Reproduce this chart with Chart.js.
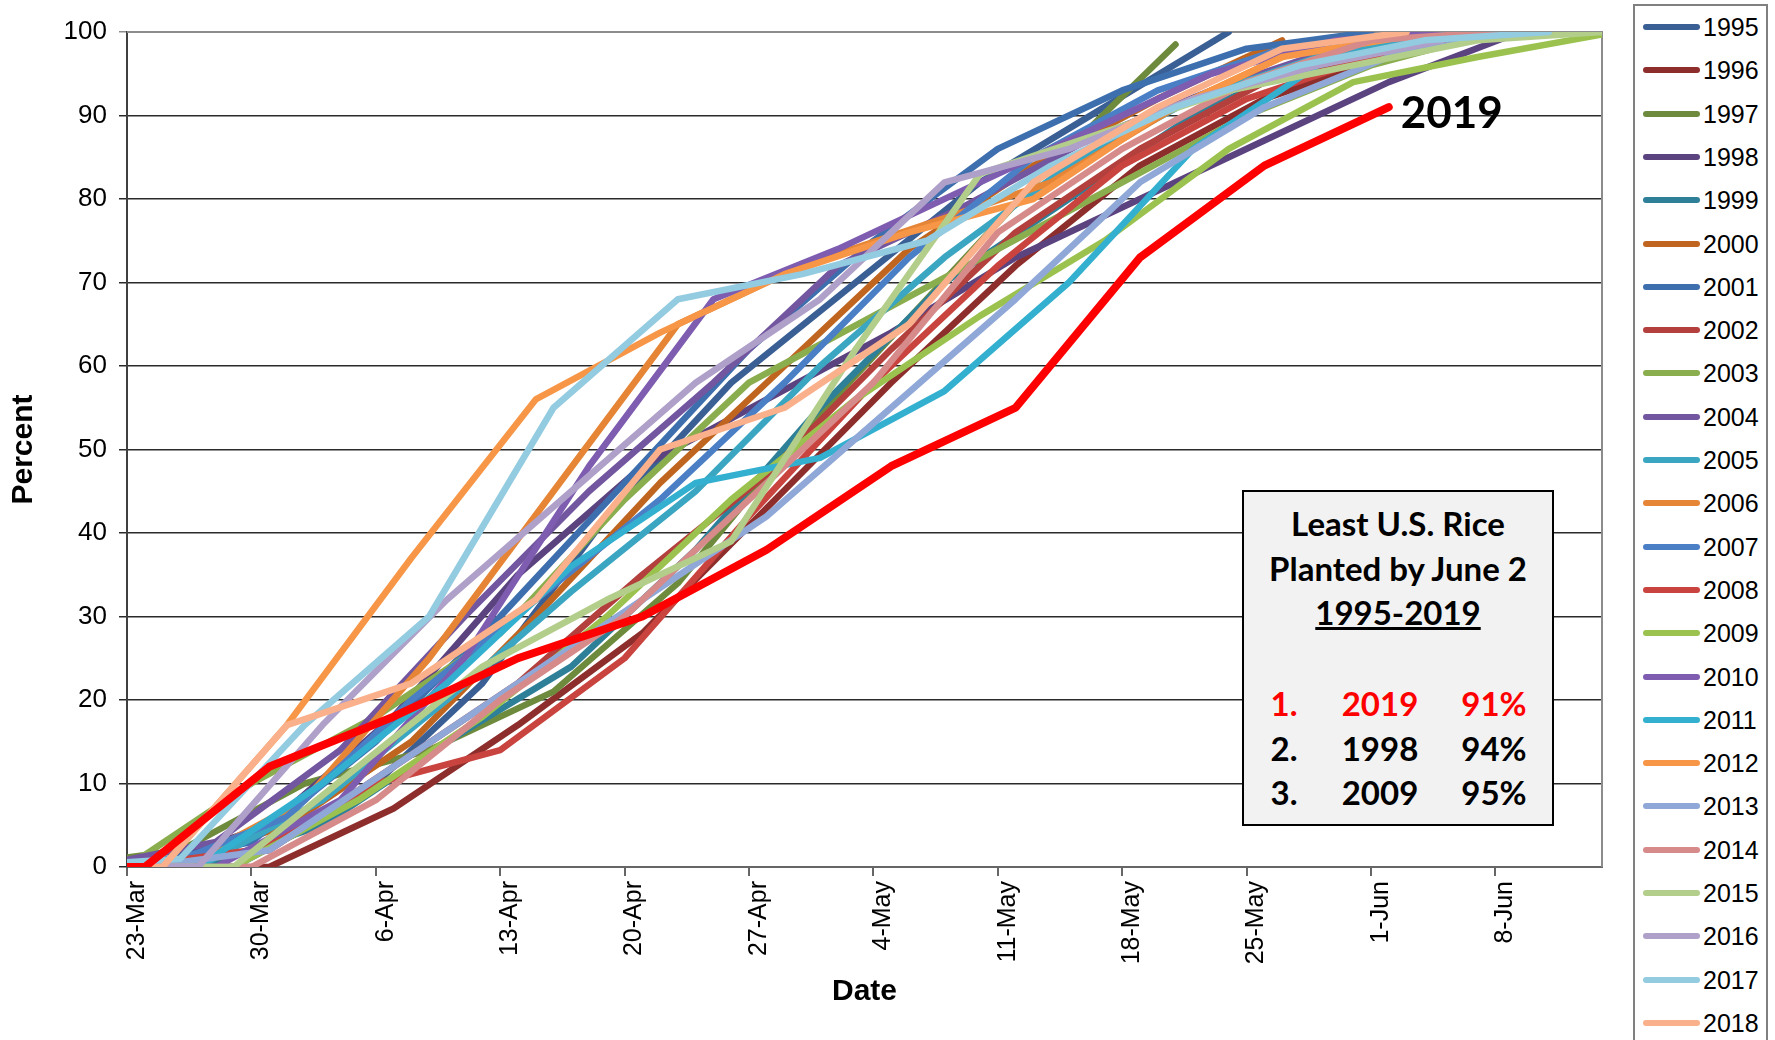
<!DOCTYPE html>
<html>
<head>
<meta charset="utf-8">
<script src="https://cdn.jsdelivr.net/npm/chart.js@4.4.1/dist/chart.umd.min.js"></script>
<style>
html,body{margin:0;padding:0;background:#fff;overflow:hidden;}
#wrap{position:relative;width:1775px;height:1040px;overflow:hidden;}
#c{position:absolute;left:0;top:0;}
#legend{position:absolute;left:1633px;top:4px;width:135px;height:1100px;border:2px solid #808080;background:#fff;box-sizing:border-box;}
.li{position:absolute;left:0;height:30px;width:130px;}
.li .sw{position:absolute;left:8px;top:12px;width:57px;height:6px;border-radius:3px;}
.li .tx{position:absolute;left:68px;top:0;font:25px "Liberation Sans",Arial,sans-serif;line-height:30px;color:#000;}
#note{position:absolute;left:1242px;top:490px;width:312px;height:336px;border:2px solid #000;background:#F2F2F2;box-sizing:border-box;font-family:Lato,"Open Sans",sans-serif;font-weight:bold;font-size:33px;color:#000;}
#note .t{position:absolute;left:0;width:100%;text-align:center;line-height:38px;}
#note .r{position:absolute;left:0;width:100%;height:38px;line-height:38px;}
#note .r span{position:absolute;text-align:center;}
</style>
</head>
<body>
<div id="wrap">
<canvas id="c" width="1620" height="1040"></canvas>
<div id="legend"></div>
<div id="note"></div>
</div>
<script>
// x axis: days after 23-Mar; weekly tick labels
const tickLabels = ['23-Mar','30-Mar','6-Apr','13-Apr','20-Apr','27-Apr','4-May','11-May','18-May','25-May','1-Jun','8-Jun'];
const years = [1995,1996,1997,1998,1999,2000,2001,2002,2003,2004,2005,2006,2007,2008,2009,2010,2011,2012,2013,2014,2015,2016,2017,2018,2019];
// day (after 23-Mar) of the first weekly report of each year
const firstDay = [-1,-6,-4,-6,-3,-5,-7,-6,-7,-2,-3,-4,-5,-7,-1,-2,-3,-5,-6,-7,-8,-3,-4,-5,-6];
// weekly percent planted (one value per week from firstDay)
const v1995 = [0,0,8,22,42,58,70,82,91,100];
const v1996 = [0,0,0,7,17,28,43,58,72,84,92,97,100];
const v1997 = [0,2,10,14,21,34,52,68,84,98.5];
const v1998 = [0,0,5,18,35,48,56,64,73,80,87,94,99.7];
const v1999 = [0,0,5,15,24,38,55,70,80,90,97,100];
const v2000 = [0,0,5,15,30,46,60,74,84,92,99];
const v2001 = [0,0,3,15,30,46,62,75,86,93,98,100];
const v2002 = [0,0,2,12,22,35,47,62,76,86,94,98,100];
const v2003 = [0,0,10,18,28,44,58,66,74,82,90,96,100];
const v2004 = [0,3,14,30,45,58,72,79,87,93,98,100];
const v2005 = [0,0,8,20,33,45,60,73,84,92,97,100];
const v2006 = [0,0,8,25,45,65,72,77,82,91,98,100];
const v2007 = [0,0,6,20,32,44,58,73,85,93,98,100];
const v2008 = [0,0,2,10,14,25,42,58,72,84,92,97,100];
const v2009 = [0,0,8,18,30,44,56,66,75,86,94,97,99.7];
const v2010 = [0,0,8,25,48,68,74,81,88,95,99,100];
const v2011 = [0,0,10,22,36,46,49,57,70,86,96,99.6];
const v2012 = [0,0,17,37,56,64,71,76,80,90,97,99.5];
const v2013 = [0,0,2,12,22,32,42,55,68,82,91,97,100];
const v2014 = [0,0,0,8,20,30,44,58,76,86,94,99,100];
const v2015 = [0,0,0,12,24,32,39,62,83,88,93,96,99,100];
const v2016 = [0,0,17,32,45,58,68,82,86,92,96,99];
const v2017 = [0,1,17,30,55,68,71,75,84,91,96,99,100];
const v2018 = [0,0,17,22,32,50,55,65,82,91,98,100];
const v2019 = [0,0,12,18,25,30,38,48,55,73,84,91];
const values = [v1995,v1996,v1997,v1998,v1999,v2000,v2001,v2002,v2003,v2004,v2005,v2006,v2007,v2008,v2009,v2010,v2011,v2012,v2013,v2014,v2015,v2016,v2017,v2018,v2019];
const colors = ['#3A5F94','#8E2E2C','#6E8B3D','#5B4380','#2E8099','#C0651F','#3D6FAE','#B3403D','#8AAD4E','#7356A0','#3BA6C2','#E58535','#4A7FC6','#C9433F','#9BC24E','#7E5CB0','#33B0CF','#F79646','#8FA8D8','#D78A8A','#B2CE8A','#AFA0C9','#93CBE0','#FAB08A','#FF0000'];
const rankNo = ['1.','2.','3.'];
const rankYear = ['2019','1998','2009'];
const rankPct = ['91%','94%','95%'];

const datasets = years.map((y, i) => ({
  label: String(y),
  data: values[i].map((v, k) => ({x: firstDay[i] + 7 * k, y: v})),
  borderColor: colors[i],
  backgroundColor: colors[i],
  borderWidth: y === 2019 ? 8 : 6.5,
  pointRadius: 0,
  tension: 0,
  borderCapStyle: 'round',
  borderJoinStyle: 'round',
  order: 2019 - y
}));

const frame = {
  id: 'frame',
  beforeDatasetsDraw(chart) {
    const {ctx, chartArea: a} = chart;
    ctx.save();
    ctx.strokeStyle = '#8c8c8c';
    ctx.lineWidth = 2;
    ctx.beginPath();
    ctx.moveTo(a.left, a.top); ctx.lineTo(a.right, a.top); ctx.lineTo(a.right, a.bottom);
    ctx.stroke();
    ctx.restore();
  },
  afterDatasetsDraw(chart) {
    const idx = years.indexOf(2019);
    const meta = chart.getDatasetMeta(idx);
    const p = meta.data[meta.data.length - 1];
    const ctx = chart.ctx;
    ctx.save();
    ctx.font = 'bold 44px Lato, "Open Sans", sans-serif';
    ctx.fillStyle = '#000';
    ctx.textBaseline = 'middle';
    ctx.fillText('2019', p.x + 12, p.y + 7);
    ctx.restore();
  }
};

new Chart(document.getElementById('c'), {
  type: 'line',
  data: {datasets},
  options: {
    responsive: false,
    animation: false,
    devicePixelRatio: 1,
    layout: {padding: {top: 32, right: 18, left: 0, bottom: 0}},
    plugins: {legend: {display: false}, tooltip: {enabled: false}},
    scales: {
      x: {
        type: 'linear', min: 0, max: 83,
        afterFit(s) { s.height = 173; },
        afterBuildTicks(s) { s.ticks = tickLabels.map((_, i) => ({value: i * 7})); },
        ticks: {
          autoSkip: false, maxRotation: 90, minRotation: 90, padding: 5, labelOffset: 10,
          color: '#000', font: {family: '"Liberation Sans", Arial, sans-serif', size: 25},
          callback: (v) => tickLabels[Math.round(v / 7)]
        },
        grid: {drawOnChartArea: false, drawTicks: true, tickLength: 9, color: '#666', lineWidth: 2},
        border: {display: true, color: '#666', width: 2},
        title: {display: true, text: 'Date', color: '#000', font: {family: '"Liberation Sans", Arial, sans-serif', size: 30, weight: 'bold'}, padding: {top: 0, bottom: 30}}
      },
      y: {
        min: 0, max: 100,
        afterFit(s) { s.width = 127; },
        ticks: {stepSize: 10, padding: 12, color: '#000', font: {family: '"Liberation Sans", Arial, sans-serif', size: 26}},
        grid: {tickLength: 8, lineWidth: 1.5, color: (c) => c.tick && c.tick.value === 100 ? '#8c8c8c' : '#2a2a2a'},
        border: {display: true, color: '#404040', width: 2},
        title: {display: true, text: 'Percent', color: '#000', font: {family: '"Liberation Sans", Arial, sans-serif', size: 30, weight: 'bold'}, padding: {top: 6, bottom: 0}}
      }
    }
  },
  plugins: [frame]
});

// legend
const lg = document.getElementById('legend');
years.forEach((y, i) => {
  const d = document.createElement('div');
  d.className = 'li';
  d.style.top = (6 + 43.3 * i) + 'px';
  d.innerHTML = '<div class="sw" style="background:' + colors[i] + '"></div><div class="tx">' + y + '</div>';
  lg.appendChild(d);
});

// note box
const note = document.getElementById('note');
['Least U.S. Rice', 'Planted by June 2', '<u>1995-2019</u>'].forEach((t, i) => {
  const d = document.createElement('div');
  d.className = 't';
  d.style.top = (12 + 44.5 * i) + 'px';
  d.innerHTML = t;
  note.appendChild(d);
});
rankNo.forEach((n, i) => {
  const d = document.createElement('div');
  d.className = 'r';
  d.style.top = (192 + 44.5 * i) + 'px';
  d.style.color = i === 0 ? '#FF0000' : '#000';
  d.innerHTML = '<span style="left:20px;width:40px">' + n + '</span><span style="left:96px;width:80px">' + rankYear[i] + '</span><span style="left:210px;width:80px">' + rankPct[i] + '</span>';
  note.appendChild(d);
});
</script>
</body>
</html>
